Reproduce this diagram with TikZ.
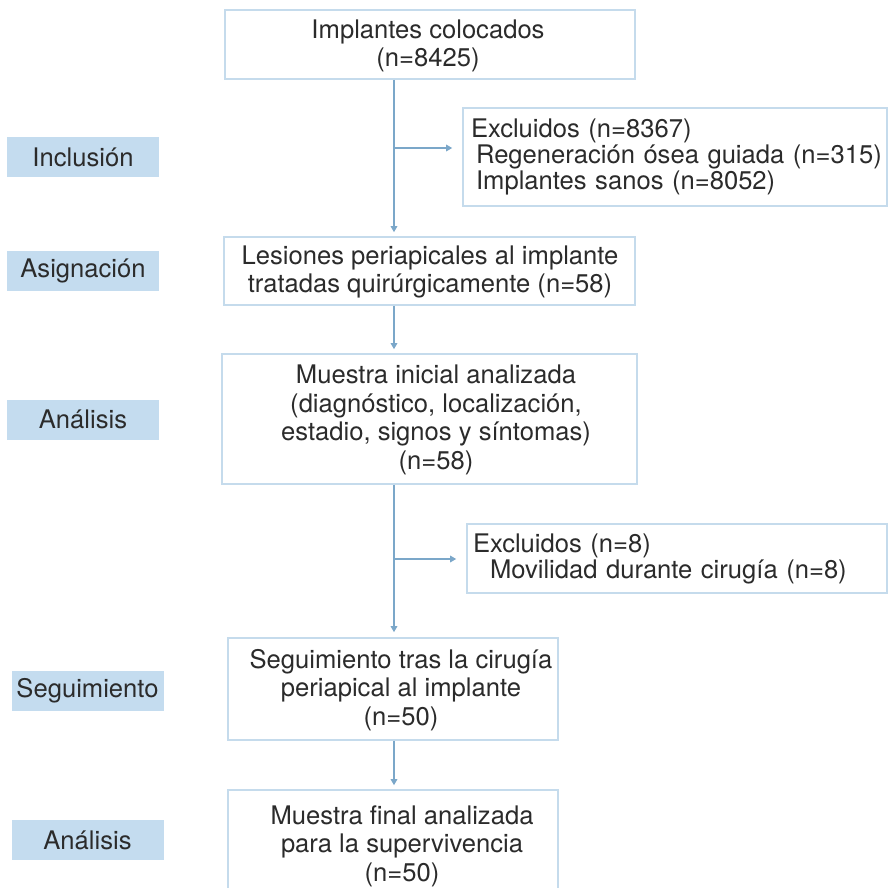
\documentclass[tikz,border=0pt]{standalone}
\usepackage{fontspec}
\setmainfont{TeX Gyre Heros}
\usetikzlibrary{arrows.meta}
\definecolor{boxline}{HTML}{C5DBEC}
\definecolor{arrowc}{HTML}{7BA7C9}
\definecolor{labfill}{HTML}{C4DCEF}
\definecolor{txt}{HTML}{2B2B2B}
\tikzset{
  box/.style={draw=boxline, line width=1.6pt, inner sep=0pt},
  btext/.style={inner sep=0pt, align=center, text=txt, font=\fontsize{25.6}{28.5}\selectfont},
  exbox/.style={draw=boxline, line width=1.6pt, inner xsep=8pt, inner ysep=0pt, align=left, text=txt, font=\fontsize{25.6}{26}\selectfont},
  lab/.style={fill=labfill, minimum width=152pt, minimum height=40pt, inner sep=0pt, text=txt, font=\fontsize{25.6}{28}\selectfont},
  arr/.style={draw=arrowc, line width=1.4pt, -{Triangle[length=6pt,width=6.5pt]}},
}
\begin{document}
\begin{tikzpicture}[x=1pt,y=-1pt]
\useasboundingbox (0,0) rectangle (889,888);
\clip (0,0) rectangle (889,888);
\fill[white] (0,0) rectangle (889,888);

% main boxes
\node[box, minimum width=410pt, minimum height=69pt] (top) at (430,44.5) {};
\node[btext] (topT) at (428,46) {Implantes colocados\\(n=8425)};

\node[box, minimum width=411pt, minimum height=68pt] (les) at (429.5,271) {};
\node[btext] (lesT) at (430,272) {Lesiones periapicales al implante\\tratadas quirúrgicamente (n=58)};

\node[box, minimum width=415pt, minimum height=130pt] (ini) at (429.5,419) {};
\node[btext] (iniT) at (436,420) {Muestra inicial analizada\\(diagnóstico, localización,\\estadio, signos y síntomas)\\(n=58)};

\node[box, minimum width=330pt, minimum height=102pt] (seg) at (393,689) {};
\node[btext] (segT) at (401,690) {Seguimiento tras la cirugía\\periapical al implante\\(n=50)};

\node[box, minimum width=330pt, minimum height=110pt] (fin) at (393,845) {};
\node[btext] (finT) at (402,846) {Muestra final analizada\\para la supervivencia\\(n=50)};

% exclusion boxes
\node[exbox, text width=408pt, minimum height=98pt] (ex1) at (675,157)
  {\mbox{Excluidos (n=8367)}\\\mbox{\hspace*{5pt}Regeneración ósea guiada (n=315)}\\\mbox{\hspace*{5pt}Implantes sanos (n=8052)}};
\node[exbox, text width=408pt, inner xsep=6pt, minimum height=69pt] (ex2) at (677,558.5)
  {\mbox{Excluidos (n=8)}\\\mbox{\hspace*{17pt}Movilidad durante cirugía (n=8)}};

% stage labels
\node[lab] (l1) at (83,157) {Inclusión};
\node[lab] (l2) at (83,271) {Asignación};
\node[lab] (l3) at (83,419.5) {Análisis};
\node[lab] (l4) at (87.5,691) {Seguimiento};
\node[lab] (l5) at (87.5,840) {Análisis};

% connectors
\coordinate (sp) at (394,0);
\coordinate (br1) at (394,148);
\coordinate (br2) at (394,559);
\draw[arr, shorten >=4pt] (top.south -| sp) -- (les.north -| sp);
\draw[arr, shorten >=4pt] (les.south -| sp) -- (ini.north -| sp);
\draw[arr, shorten >=5pt] (ini.south -| sp) -- (seg.north -| sp);
\draw[arr, shorten >=4pt] (seg.south -| sp) -- (fin.north -| sp);
\draw[arr, shorten >=10pt] (br1) -- (br1 -| ex1.west);
\draw[arr, shorten >=10pt] (br2) -- (br2 -| ex2.west);
\end{tikzpicture}
\end{document}
